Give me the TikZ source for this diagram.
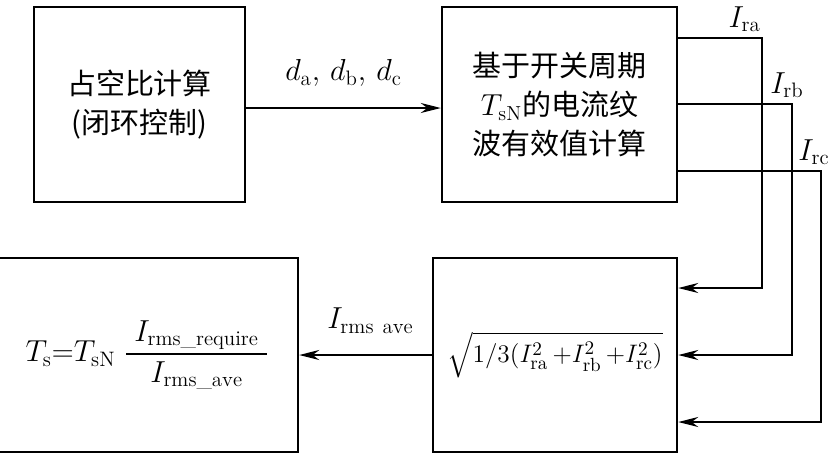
\documentclass[tikz,border=0pt]{standalone}
\usepackage{amsmath}
\usepackage{fontspec}
\newfontfamily\cjk{Noto Sans CJK SC}
\usetikzlibrary{arrows.meta, positioning}

\begin{document}
\begin{tikzpicture}[
  blk/.style={draw, line width=1.4pt, inner sep=0pt, align=center},
  wire/.style={line width=0.9pt},
  arr/.style={wire, -{Stealth[length=4mm, width=2mm]}},
  zh/.style={font=\cjk\fontsize{16.5}{22}\selectfont},
  lbl/.style={font=\fontsize{17}{19}\selectfont}
]
\useasboundingbox (0,0) rectangle (16.62,-9.08);

% upper row
\node[blk, zh, minimum width=4.22cm, minimum height=3.9cm] (duty) at (2.79,-2.09)
  {占空比计算\\(闭环控制)};
\node[blk, zh, minimum width=4.7cm, minimum height=3.9cm] (rms) at (11.19,-2.09)
  {基于开关周期\\$T_{\mathrm{sN}}$的电流纹\\波有效值计算};

% lower row
\node[blk, lbl, font=\fontsize{15.5}{18}\selectfont, minimum width=4.88cm, minimum height=3.88cm] (avg) at (11.1,-7.1)
  {$\sqrt{1/3(I_{\mathrm{ra}}^2\,{+}I_{\mathrm{rb}}^2\,{+}I_{\mathrm{rc}}^2)}$};
\node[blk, lbl, minimum width=6.02cm, minimum height=3.88cm] (ts) at (2.95,-7.1)
  {$T_{\mathrm{s}}{=}T_{\mathrm{sN}}\;\dfrac{\;I_{\mathrm{rms\_require}}\;}{I_{\mathrm{rms\_ave}}}$};

% duty ratios
\draw[arr] ([yshift=-0.07cm]duty.east) -- ([yshift=-0.07cm]rms.west)
  node[midway, above=0.3cm, lbl] (dd) {$d_{\mathrm{a}},\,d_{\mathrm{b}},\,d_{\mathrm{c}}$};

% ripple currents fed back
\coordinate (ta1) at (15.24,-0.76);
\coordinate (ta2) at (15.24,-5.76);
\coordinate (tb1) at (15.84,-2.08);
\coordinate (tb2) at (15.84,-7.1);
\coordinate (tc1) at (16.42,-3.42);
\coordinate (tc2) at (16.42,-8.44);
\draw[arr] (rms.east |- ta1) -- (ta1) -- (ta2) -- (avg.east |- ta2);
\draw[arr] (rms.east |- tb1) -- (tb1) -- (tb2) -- (avg.east |- tb2);
\draw[arr] (rms.east |- tc1) -- (tc1) -- (tc2) -- (avg.east |- tc2);
\node[lbl, above left=0.0cm and -0.1cm of ta1] (la) {$I_{\mathrm{ra}}$};
\node[lbl, above=0.0cm of tb1, xshift=-0.1cm] (lb) {$I_{\mathrm{rb}}$};
\node[lbl, above=0.0cm of tc1, xshift=-0.14cm] (lc) {$I_{\mathrm{rc}}$};

% average rms current
\draw[arr] (avg) -- (ts)
  node[midway, above=0.3cm, lbl, xshift=0.1cm] (li) {$I_{\mathrm{rms\ ave}}$};

\end{tikzpicture}
\end{document}
